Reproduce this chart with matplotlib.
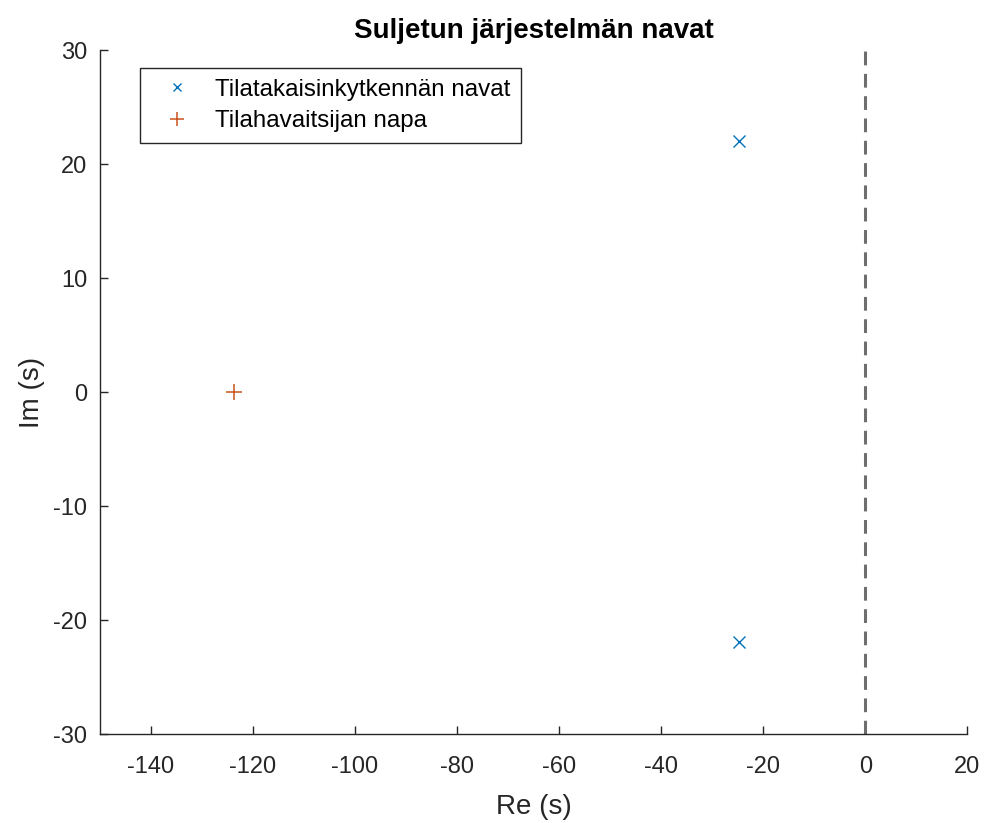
import matplotlib
matplotlib.use('Agg')
import matplotlib.pyplot as plt

plt.rcParams['font.family'] = ['Liberation Sans', 'DejaVu Sans']
plt.rcParams['axes.unicode_minus'] = False

# tilatakaisinkytkennän navat (kompleksikonjugaattipari) ja havaitsijan napa
k_re = [-24.7, -24.7]
k_im = [22.0, -21.9]
h_re = [-123.7]
h_im = [0.0]

fig = plt.figure(figsize=(9.88, 8.23), dpi=100)
ax = fig.add_axes([0.101, 0.108, 0.878, 0.831])

ax.plot(k_re, k_im, 'x', color='#0072BD', ms=8, mew=1.0, label='Tilatakaisinkytkennän navat')
ax.plot(h_re, h_im, '+', color='#C9531E', ms=12, mew=1.1, label='Tilahavaitsijan napa')
ax.plot([0, 0], [-30, 30], '--', color='#6e6e6e', lw=2.2, dashes=(4.5, 2.8))

ax.set_xlim(-150, 20)
ax.set_ylim(-30, 30)
ax.set_xticks(range(-140, 21, 20))
ax.set_yticks(range(-30, 31, 10))
ax.spines['top'].set_visible(False)
ax.spines['right'].set_visible(False)
for s in ('left', 'bottom'):
    ax.spines[s].set_color('#262626')
    ax.spines[s].set_linewidth(1.0)
ax.tick_params(direction='in', length=6, width=1.0, colors='#262626', labelsize=17)
ax.tick_params(axis='x', pad=16)
ax.tick_params(axis='y', pad=9)

ax.set_xlabel('Re (s)', fontsize=20, color='#262626', labelpad=11)
ax.set_ylabel('Im (s)', fontsize=20, color='#262626', labelpad=6)
ax.set_title('Suljetun järjestelmän navat', fontsize=20, fontweight='bold', pad=9)

leg = ax.legend(loc='upper left', bbox_to_anchor=(0.046, 0.974), borderaxespad=0,
                fontsize=17.4, frameon=True, fancybox=False, edgecolor='#262626',
                framealpha=1, borderpad=0.45, handletextpad=0.45, handlelength=2.2,
                labelspacing=0.38, markerscale=0.8)
leg.get_frame().set_linewidth(1.0)

fig.savefig('out.png', dpi=100)
